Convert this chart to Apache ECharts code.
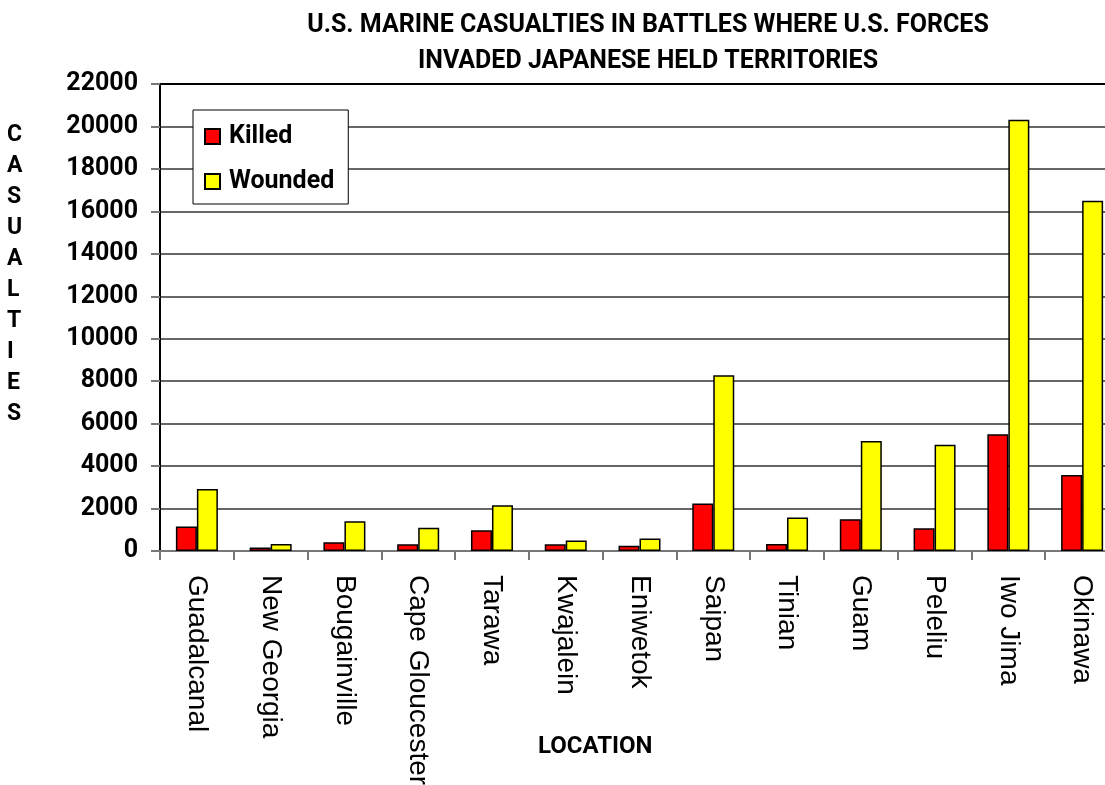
<!DOCTYPE html>
<html>
<head>
<meta charset="utf-8">
<script src="https://cdn.jsdelivr.net/npm/echarts@6/dist/echarts.min.js"></script>
<style>
html,body{margin:0;padding:0;background:#fff;}
#chart{width:1105px;height:785px;}
</style>
</head>
<body>
<div id="chart"></div>
<script>
const categories = ['Guadalcanal','New Georgia','Bougainville','Cape Gloucester','Tarawa','Kwajalein','Eniwetok','Saipan','Tinian','Guam','Peleliu','Iwo Jima','Okinawa'];
const killed = [1150, 160, 410, 315, 980, 315, 250, 2240, 330, 1500, 1070, 5500, 3575];
const wounded = [2915, 330, 1400, 1090, 2160, 490, 585, 8285, 1575, 5180, 5010, 20310, 16500];
const yTicks = [0, 2000, 4000, 6000, 8000, 10000, 12000, 14000, 16000, 18000, 20000, 22000];

const boldFont = 'Roboto';
const chart = echarts.init(document.getElementById('chart'), null, {renderer: 'canvas'});
chart.setOption({
  animation: false,
  backgroundColor: '#ffffff',
  title: {
    text: 'U.S. MARINE CASUALTIES IN BATTLES WHERE U.S. FORCES\nINVADED JAPANESE HELD TERRITORIES',
    left: 643, top: 3, textAlign: 'center',
    textStyle: {fontFamily: boldFont, fontWeight: 'bold', fontSize: 25, color: '#000', lineHeight: 36}
  },
  legend: {
    orient: 'vertical',
    left: 193, top: 110,
    padding: [14, 14, 10, 11],
    itemGap: 20,
    itemWidth: 15, itemHeight: 15,
    backgroundColor: '#fff',
    borderColor: '#000', borderWidth: 1,
    textStyle: {fontFamily: boldFont, fontWeight: 'bold', fontSize: 25, color: '#000', padding: [0, 0, 0, 4]},
    data: [
      {name: 'Killed', icon: 'rect'},
      {name: 'Wounded', icon: 'rect'}
    ]
  },
  grid: {left: 160, top: 84, width: 959, height: 467, containLabel: false, outerBoundsMode: 'none'},
  xAxis: [{
    type: 'category',
    data: categories,
    boundaryGap: true,
    axisLine: {lineStyle: {color: '#777', width: 2}},
    axisTick: {show: true, inside: false, length: 9, lineStyle: {color: '#777', width: 2}, alignWithLabel: false},
    axisLabel: {rotate: -90, margin: 24, fontFamily: 'Liberation Sans', fontSize: 28, color: '#000', interval: 0}
  }, {
    type: 'category',
    data: categories,
    position: 'top',
    axisLine: {show: true, lineStyle: {color: '#000', width: 2}},
    axisTick: {show: false},
    axisLabel: {show: false}
  }],
  yAxis: {
    type: 'value',
    min: yTicks[0], max: yTicks[yTicks.length - 1], interval: 2000,
    axisLine: {show: true, lineStyle: {color: '#000', width: 2}},
    axisTick: {show: true, length: 9, lineStyle: {color: '#777', width: 2}},
    axisLabel: {margin: 22, fontFamily: boldFont, fontWeight: 'bold', fontSize: 25, color: '#000',
      formatter: function (v) { return String(v); }},
    splitLine: {show: true, lineStyle: {color: '#333', width: 1.5}}
  },
  series: [{
    name: 'Killed', type: 'bar', data: killed,
    barWidth: 21, barGap: '0%',
    itemStyle: {color: '#ff0000', borderColor: '#000', borderWidth: 1.5}
  }, {
    name: 'Wounded', type: 'bar', data: wounded,
    barWidth: 21, barGap: '0%',
    itemStyle: {color: '#ffff00', borderColor: '#000', borderWidth: 1.5}
  }],
  graphic: [{
    type: 'text', left: 7, top: 120,
    style: {text: 'C\nA\nS\nU\nA\nL\nT\nI\nE\nS', fontFamily: boldFont, fontWeight: 'bold', fontSize: 23, lineHeight: 31, fill: '#000', align: 'center'}
  }, {
    type: 'text', left: 538, top: 735,
    style: {text: 'LOCATION', fontFamily: boldFont, fontWeight: 'bold', fontSize: 24, fill: '#000'}
  }]
});
</script>
</body>
</html>
